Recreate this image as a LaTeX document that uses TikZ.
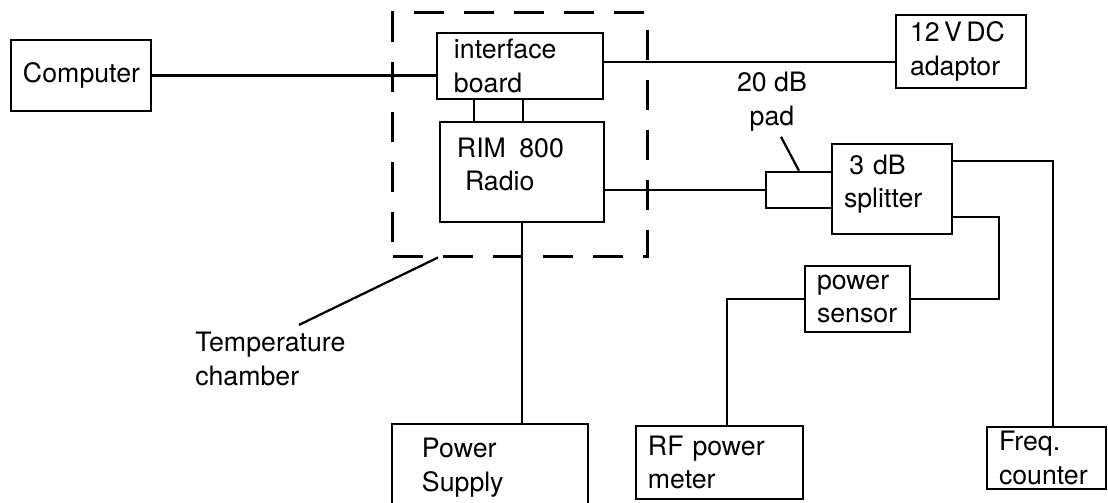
\documentclass[tikz,border=0pt]{standalone}
\usepackage{fontspec}
\setmainfont{TeX Gyre Heros}
\usetikzlibrary{calc}

\begin{document}
\begin{tikzpicture}[x=0.025cm, y=-0.025cm,
    every node/.style={font=\fontsize{19}{24}\selectfont},
    unit/.style={draw, line width=1.6pt, align=left, inner xsep=0.3cm, inner ysep=0pt},
    wire/.style={line width=1.6pt},
    chamberbox/.style={draw, line width=2.1pt, dash pattern=on 0.75cm off 0.5cm}]
    \useasboundingbox (0,0) rectangle (1108,503);

    % computer and radio in the chamber
    \node[unit, align=center, text width=2.9cm, minimum height=1.775cm] (comp) at (81,75.5) {Computer};
    \node[unit, inner xsep=0.425cm, text width=3.3cm, minimum height=1.65cm] (iface) at (520,66) {interface\\board};
    \node[unit, inner xsep=0.425cm, text width=3.25cm, minimum height=2.5cm, text depth=35pt] (radio) at (522,172) {RIM\enspace800\\\hspace{0.3em}Radio};
    \node[chamberbox, minimum width=6.35cm, minimum height=6.075cm] (chamber) at (520,134.5) {};

    % supplies
    \node[unit, inner xsep=0.35cm, text width=2.55cm, minimum height=1.825cm] (adaptor) at (961,51.5) {\mbox{12\,V\,DC}\\adaptor};
    \node[unit, inner xsep=0.75cm, text width=3.4cm, minimum height=2.2cm] (psu) at (490,468) {Power\\Supply};

    % measurement chain
    \node[unit, minimum width=1.65cm, minimum height=0.9cm, inner xsep=0pt] (pad) at (799,190) {};
    \node[unit, text width=2.4cm, minimum height=2.25cm, text depth=35pt] (splitter) at (892,189) {\hspace{0.2em}3 dB\\splitter};
    \node[unit, text width=2.025cm, minimum height=1.65cm] (sensor) at (857.5,299) {power\\sensor};
    \node[unit, text width=3.575cm, minimum height=1.825cm] (rfm) at (719.5,462.5) {RF power\\meter};
    \node[unit, text width=2.375cm, minimum height=1.55cm] (freq) at (1046.5,458) {Freq.\\counter};

    % labels
    \node[align=left, inner sep=0pt, anchor=west] (tlabel) at (195,359) {Temperature\\chamber};
    \node[align=center, inner sep=0pt] (padlabel) at (772,102) {20 dB\\pad};

    % links
    \draw[wire] (comp.east) -- (comp.east -| iface.west);
    \draw[wire] ([yshift=0.1cm]iface.east) -- ([yshift=0.1cm]iface.east -| adaptor.west);
    \foreach \dx in {-1.15,0.075}
        \draw[wire] ([xshift=\dx cm]iface.south) -- ([xshift=\dx cm]iface.south |- radio.north);
    \draw[wire] (radio.east |- pad.west) -- (pad.west);
    \draw[wire] (radio.south) -- (radio.south |- psu.north);
    \draw[wire] ($(splitter.north east)!0.2!(splitter.south east)$) -| ([xshift=0.16cm]freq.north);
    \coordinate (bend) at ([xshift=2.2cm]sensor.east);
    \draw[wire] ($(splitter.north east)!0.8!(splitter.south east)$) -| (bend) -- (sensor.east);
    \draw[wire] (sensor.west) -| ([xshift=0.19cm]rfm.north);

    % pointers
    \draw[wire] ([xshift=2.6cm, yshift=0.175cm]tlabel.north west) -- ([xshift=-2.05cm]chamber.south);
    \draw[wire] ([xshift=0.225cm, yshift=-0.125cm]padlabel.south) -- (pad.north);
\end{tikzpicture}
\end{document}
